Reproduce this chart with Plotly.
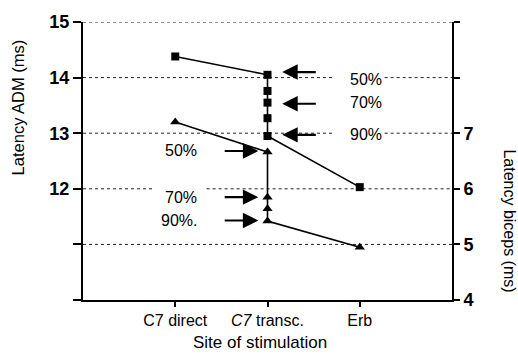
import plotly.graph_objects as go

# ---- data ----
categories = ["C7 direct", "<i>C7</i> transc.", "Erb"]
cat_pos = [1, 2, 3]

adm_x = [1, 2, 2, 2, 2, 2, 3]
adm_y = [14.38, 14.05, 13.76, 13.55, 13.27, 12.95, 12.03]

bic_x = [1, 2, 2, 2, 2, 3]
bic_y = [7.20, 6.66, 5.85, 5.64, 5.42, 4.95]

left_ticks = [10, 11, 12, 13, 14, 15]
left_ticktext = ["", "", "12", "13", "14", "15"]
right_ticks = [4, 5, 6, 7, 8, 9]
right_ticktext = ["4", "5", "6", "7", "", ""]

# arrows pointing to biceps points (left side) and ADM points (right side)
bic_arrow_y = [6.68, 5.85, 5.43]
bic_arrow_lbl = ["50%", "70%", "90%."]
adm_arrow_y = [14.10, 13.53, 12.97]
adm_label_y = [13.96, 13.55, 12.97]
adm_arrow_lbl = ["50%", "70%", "90%"]

# dotted reference lines: (level, segments in x units)
grid_lines = [
    (15, [(0, 4)]),
    (14, [(0, 2.7), (3.27, 4)]),
    (13, [(0, 2.7), (3.27, 4)]),
    (12, [(0, 0.78), (1.34, 4)]),
    (11, [(0, 4)]),
]

FONT = "Liberation Sans, Arial, sans-serif"

fig = go.Figure()
fig.add_trace(go.Scatter(
    x=adm_x, y=adm_y, mode="lines+markers",
    line=dict(color="black", width=1.6),
    marker=dict(symbol="square", size=8, color="black"),
    yaxis="y", showlegend=False))
fig.add_trace(go.Scatter(
    x=bic_x, y=bic_y, mode="lines+markers",
    line=dict(color="black", width=1.6),
    marker=dict(symbol="triangle-up", size=9, color="black"),
    yaxis="y2", showlegend=False))

shapes = []
for lvl, segs in grid_lines:
    for a, b in segs:
        shapes.append(dict(type="line", xref="x", yref="y", x0=a, x1=b, y0=lvl, y1=lvl,
                           line=dict(color="#222", width=1, dash="dot"), layer="below"))

ann = []
for yv, lbl in zip(bic_arrow_y, bic_arrow_lbl):
    ann.append(dict(x=1.90, y=yv, xref="x", yref="y2", ax=1.52, ay=yv, axref="x", ayref="y2",
                    showarrow=True, arrowhead=2, arrowsize=1.4, arrowwidth=2.2, arrowcolor="black", text=""))
    ann.append(dict(x=1.26, y=yv, xref="x", yref="y2", text=lbl, showarrow=False,
                    xanchor="right", font=dict(family=FONT, size=16, color="black")))
for yv, ly, lbl in zip(adm_arrow_y, adm_label_y, adm_arrow_lbl):
    ann.append(dict(x=2.16, y=yv, xref="x", yref="y", ax=2.54, ay=yv, axref="x", ayref="y",
                    showarrow=True, arrowhead=2, arrowsize=1.4, arrowwidth=2.2, arrowcolor="black", text=""))
    ann.append(dict(x=2.87, y=ly, xref="x", yref="y", text=lbl, showarrow=False,
                    xanchor="left", font=dict(family=FONT, size=16, color="black")))

ann.append(dict(x=-0.176, y=0.693, xref="paper", yref="paper", text="Latency ADM (ms)", textangle=-90,
                showarrow=False, xanchor="center", yanchor="middle",
                font=dict(family=FONT, size=16.5, color="black")))
ann.append(dict(x=1.157, y=0.283, xref="paper", yref="paper", text="Latency biceps (ms)", textangle=90,
                showarrow=False, xanchor="center", yanchor="middle",
                font=dict(family=FONT, size=16, color="black")))
ann.append(dict(x=0.48, y=-0.152, xref="paper", yref="paper", text="Site of stimulation",
                showarrow=False, xanchor="center", yanchor="middle",
                font=dict(family=FONT, size=17, color="black")))

fig.update_layout(
    width=518, height=358,
    margin=dict(l=83, r=66, t=17, b=58),
    paper_bgcolor="white", plot_bgcolor="white",
    font=dict(family=FONT, color="black"),
    shapes=shapes, annotations=ann,
    xaxis=dict(range=[0, 4], tickvals=cat_pos, ticktext=categories, showgrid=False,
               zeroline=False, showline=True, linecolor="black", linewidth=2,
               ticks="outside", ticklen=5, tickwidth=1.5, tickcolor="black",
               tickfont=dict(family=FONT, size=16)),
    yaxis=dict(range=[10, 15], tickvals=left_ticks, ticktext=left_ticktext, showgrid=False,
               zeroline=False, showline=True, linecolor="black", linewidth=2,
               ticks="outside", ticklen=8, tickwidth=1.5, tickcolor="black",
               tickfont=dict(family=FONT, size=18, weight="bold")),
    yaxis2=dict(range=[4, 9], overlaying="y", side="right", tickvals=right_ticks,
                ticktext=right_ticktext, showgrid=False, zeroline=False, showline=True,
                linecolor="black", linewidth=2, ticks="outside", ticklen=6, tickwidth=1.5,
                tickcolor="black", tickfont=dict(family=FONT, size=18, weight="bold")),
)

fig.write_html("out.html")
